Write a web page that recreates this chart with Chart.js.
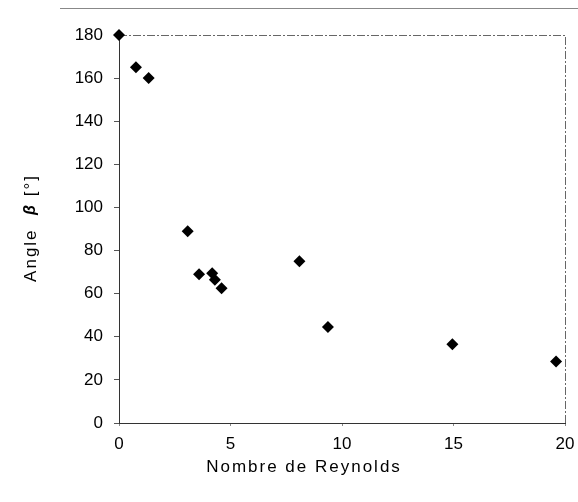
<!DOCTYPE html>
<html>
<head>
<meta charset="utf-8">
<script src="https://cdn.jsdelivr.net/npm/chart.js@4"></script>
<style>
  html, body { margin: 0; padding: 0; background: #fff; }
  #wrap { width: 578px; height: 502px; }
</style>
</head>
<body>
<div id="wrap"><canvas id="reChart" width="578" height="502"></canvas></div>
<script>
// values
const reynolds = [0, 0.76, 1.33, 3.08, 3.59, 4.18, 4.3, 4.6, 8.09, 9.37, 14.95, 19.6];
const angle = [180, 165, 160, 89, 69, 69.5, 66.5, 62.5, 75, 44.5, 36.5, 28.5];
const xTicks = [0, 5, 10, 15, 20];
const yTicks = [0, 20, 40, 60, 80, 100, 120, 140, 160, 180];

const FONT = 'Liberation Sans, Arial, sans-serif';

// frame + axis titles drawn by hand, like the original figure
const decor = {
  id: 'decor',
  beforeDatasetsDraw(chart) {
    const { ctx, chartArea: a } = chart;
    ctx.save();
    ctx.strokeStyle = '#666';
    ctx.lineWidth = 1;
    ctx.setLineDash([8, 2, 2, 2]);
    ctx.beginPath();
    ctx.moveTo(a.left, a.top + 0.5);
    ctx.lineTo(a.right + 0.5, a.top + 0.5);
    ctx.lineTo(a.right + 0.5, a.bottom);
    ctx.stroke();
    // outer frame line at the very top
    ctx.setLineDash([]);
    ctx.strokeStyle = '#888';
    ctx.beginPath();
    ctx.moveTo(60, 8.5);
    ctx.lineTo(578, 8.5);
    ctx.stroke();
    ctx.restore();
  },
  afterDraw(chart) {
    const { ctx } = chart;
    ctx.save();
    ctx.fillStyle = '#000';
    ctx.textBaseline = 'middle';
    ctx.letterSpacing = '2px';
    ctx.font = '17px ' + FONT;
    ctx.textAlign = 'center';
    ctx.fillText('Nombre de Reynolds', 304, 467);

    // y title, rotated, with a bold beta
    ctx.translate(31, 228);
    ctx.rotate(-Math.PI / 2);
    const parts = [
      ['Angle  ', '17px ' + FONT],
      ['\u03B2', 'italic bold 16px ' + FONT],
      [' [\u00B0]', '17px ' + FONT]
    ];
    let total = 0;
    parts.forEach(p => { ctx.font = p[1]; total += ctx.measureText(p[0]).width; });
    let x = -total / 2;
    ctx.textAlign = 'left';
    parts.forEach(p => {
      ctx.font = p[1];
      ctx.fillText(p[0], x, 0);
      x += ctx.measureText(p[0]).width;
    });
    ctx.restore();
  }
};

const ctx = document.getElementById('reChart').getContext('2d');
const reChart = new Chart(ctx, {
  type: 'scatter',
  data: {
    datasets: [{
      label: 'Angle',
      data: reynolds.map((r, i) => ({ x: r, y: angle[i] })),
      pointStyle: 'rectRot',
      pointRadius: 6,
      pointHoverRadius: 6,
      backgroundColor: '#000',
      borderColor: '#000',
      borderWidth: 0,
      clip: false
    }]
  },
  options: {
    responsive: false,
    animation: false,
    events: [],
    layout: { padding: { left: 0, right: 13, top: 35, bottom: 0 } },
    plugins: { legend: { display: false }, tooltip: { enabled: false } },
    scales: {
      x: {
        type: 'linear',
        min: 0,
        max: 20,
        afterFit: (s) => { s.height = 79; s.paddingRight = 0; s.paddingLeft = 0; },
        afterBuildTicks: (s) => { s.ticks = xTicks.map(v => ({ value: v })); },
        grid: { display: true, drawOnChartArea: false, drawTicks: true, tickLength: 3, color: '#888' },
        border: { display: true, color: '#333', width: 1 },
        ticks: { color: '#000', font: { family: FONT, size: 17 }, padding: 8 }
      },
      y: {
        min: 0,
        max: 180,
        afterFit: (s) => { s.width = 119; },
        afterBuildTicks: (s) => { s.ticks = yTicks.map(v => ({ value: v })); },
        grid: { display: true, drawOnChartArea: false, drawTicks: true, tickLength: 5, color: '#555' },
        border: { display: true, color: '#333', width: 1, dash: [6, 2] },
        ticks: { color: '#000', font: { family: FONT, size: 17 }, padding: 11 }
      }
    }
  },
  plugins: [decor]
});
</script>
</body>
</html>
